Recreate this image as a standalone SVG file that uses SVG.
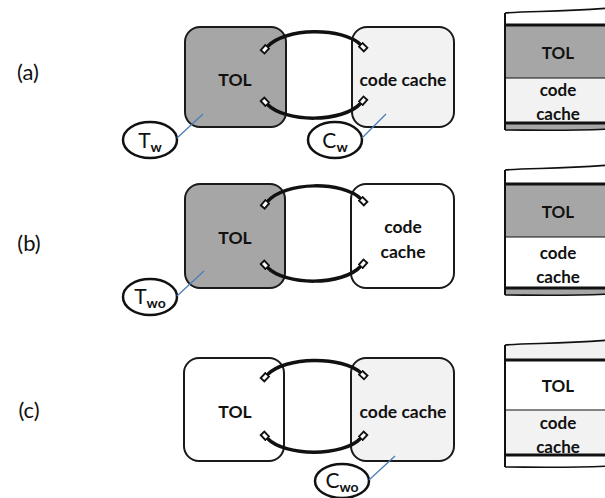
<svg xmlns="http://www.w3.org/2000/svg" width="605" height="498" viewBox="0 0 605 498">
<style>
.box{stroke:#1a1a1a;stroke-width:2}
.dark{fill:#a6a6a6}
.light{fill:#f2f2f2}
.white{fill:#ffffff}
.bt{font-family:Lato,"Liberation Sans",sans-serif;font-weight:bold;font-size:17.5px;fill:#111;text-anchor:middle}
.st{font-family:Lato,"Liberation Sans",sans-serif;font-weight:bold;font-size:17px;fill:#111;text-anchor:middle}
.lbl{font-family:Lato,"Liberation Sans",sans-serif;font-size:22px;fill:#111;text-anchor:middle}
.et{font-family:Lato,"Liberation Sans",sans-serif;font-size:21px;fill:#111;text-anchor:middle}
.sub{font-weight:bold;font-size:14px}
.ell{fill:#fff;stroke:#111;stroke-width:2.5}
.arc{fill:none;stroke:#111;stroke-width:3.5;marker-start:url(#cap);marker-end:url(#cap)}
.lead{stroke:#4a7ebb;stroke-width:1.3}
.thick{stroke:#111;stroke-width:2.8;fill:none}
.thin{stroke:#111;stroke-width:1.2;fill:none}
</style>
<defs>
<marker id="cap" markerUnits="userSpaceOnUse" markerWidth="14" markerHeight="14" refX="1" refY="7" orient="auto-start-reverse" viewBox="0 0 14 14">
<rect x="0.5" y="4.5" width="7" height="5" fill="#fff" stroke="#111" stroke-width="1.9"/>
</marker>
</defs>

<g id="labels">
<text class="lbl" x="28" y="80">(a)</text>
<text class="lbl" x="29" y="251">(b)</text>
<text class="lbl" x="29" y="418">(c)</text>
</g>

<!-- row a -->
<g id="a-tol"><rect class="box dark" x="185" y="27" width="101" height="100" rx="15"/><text class="bt" x="235" y="86">TOL</text></g>
<g id="a-cc"><rect class="box light" x="352" y="27" width="102" height="100" rx="15"/><text class="bt" x="403" y="86">code cache</text></g>
<g id="a-tw"><ellipse class="ell" cx="150" cy="140" rx="27" ry="18"/><text class="et" x="150" y="148">T<tspan class="sub" dy="4">w</tspan></text></g>
<g id="a-cw"><ellipse class="ell" cx="335" cy="140" rx="27" ry="18"/><text class="et" x="335" y="148">C<tspan class="sub" dy="4">w</tspan></text></g>

<!-- row b -->
<g id="b-tol"><rect class="box dark" x="185" y="184" width="100" height="104" rx="15"/><text class="bt" x="235" y="244">TOL</text></g>
<g id="b-cc"><rect class="box white" x="351" y="184" width="103" height="104" rx="15"/><text class="bt" x="403" y="233">code</text><text class="bt" x="403" y="258">cache</text></g>
<g id="b-two"><ellipse class="ell" cx="150" cy="297" rx="27" ry="18"/><text class="et" x="150" y="304">T<tspan class="sub" dy="4">wo</tspan></text></g>

<!-- row c -->
<g id="c-tol"><rect class="box white" x="184" y="358" width="100" height="103" rx="15"/><text class="bt" x="235" y="418">TOL</text></g>
<g id="c-cc"><rect class="box light" x="351" y="358" width="103" height="103" rx="15"/><text class="bt" x="403" y="418">code cache</text></g>
<g id="c-cwo"><ellipse class="ell" cx="342" cy="481" rx="27" ry="17"/><text class="et" x="342" y="488">C<tspan class="sub" dy="4">wo</tspan></text></g>

<g id="connectors">
<path class="arc" d="M267,47 C285,27 343,27 361,45"/>
<path class="arc" d="M267,104 C285,123 343,123 361,103"/>
<path class="arc" d="M267,202 C285,181 343,181 361,199"/>
<path class="arc" d="M267,267 C285,286 343,286 361,266"/>
<path class="arc" d="M267,375 C285,356 343,356 361,373"/>
<path class="arc" d="M267,438 C285,457 343,457 361,438"/>
<line class="lead" x1="177" y1="138" x2="203" y2="114"/>
<line class="lead" x1="362" y1="138" x2="386" y2="114"/>
<line class="lead" x1="177" y1="296" x2="204" y2="271"/>
<line class="lead" x1="369" y1="480" x2="395" y2="456"/>
</g>

<!-- stack a -->
<g id="stack-a">
<path class="white" d="M505,13 C530,11 560,12 610,8 L610,25 L505,25 Z"/>
<rect class="dark" x="505" y="25" width="105" height="53"/>
<rect class="light" x="505" y="78" width="105" height="45"/>
<path class="dark" d="M505,123 L610,123 L610,129 C570,131 530,130 505,130 Z"/>
<path class="thin" d="M505,13 C530,11 560,12 610,8" style="stroke-width:1.6"/>
<line class="thick" x1="505" y1="25" x2="610" y2="25"/>
<line class="thin" x1="505" y1="78" x2="610" y2="78"/>
<line class="thick" x1="505" y1="123" x2="610" y2="123"/>
<path class="thin" d="M505,130 C530,130 570,131 610,129" style="stroke-width:1.6"/>
<line class="thick" x1="505" y1="13" x2="505" y2="130" style="stroke-width:2"/>
<text class="st" x="558" y="59">TOL</text>
<text class="st" x="558" y="96">code</text>
<text class="st" x="558" y="120">cache</text>
</g>

<!-- stack b -->
<g id="stack-b">
<path class="white" d="M505,170 C530,168 560,169 610,165 L610,184 L505,184 Z"/>
<rect class="dark" x="505" y="184" width="105" height="53"/>
<rect class="white" x="505" y="237" width="105" height="51"/>
<path class="dark" d="M505,288 L610,288 L610,294 C570,296 530,295 505,295 Z"/>
<path class="thin" d="M505,170 C530,168 560,169 610,165" style="stroke-width:1.6"/>
<line class="thick" x1="505" y1="184" x2="610" y2="184"/>
<line class="thin" x1="505" y1="237" x2="610" y2="237"/>
<line class="thick" x1="505" y1="288" x2="610" y2="288"/>
<path class="thin" d="M505,295 C530,295 570,296 610,294" style="stroke-width:1.6"/>
<line class="thick" x1="505" y1="170" x2="505" y2="295" style="stroke-width:2"/>
<text class="st" x="558" y="218">TOL</text>
<text class="st" x="558" y="259">code</text>
<text class="st" x="558" y="283">cache</text>
</g>

<!-- stack c -->
<g id="stack-c">
<path class="light" d="M505,345 C530,343 560,344 610,340 L610,360 L505,360 Z"/>
<rect class="white" x="505" y="360" width="105" height="50"/>
<rect class="light" x="505" y="410" width="105" height="45"/>
<path class="white" d="M505,455 L610,455 L610,466 C570,468 530,467 505,467 Z"/>
<path class="thin" d="M505,345 C530,343 560,344 610,340" style="stroke-width:1.6"/>
<line class="thick" x1="505" y1="360" x2="610" y2="360"/>
<line class="thin" x1="505" y1="410" x2="610" y2="410"/>
<line class="thick" x1="505" y1="455" x2="610" y2="455"/>
<path class="thin" d="M505,467 C530,467 570,468 610,466" style="stroke-width:1.6"/>
<line class="thick" x1="505" y1="345" x2="505" y2="467" style="stroke-width:2"/>
<text class="st" x="558" y="392">TOL</text>
<text class="st" x="558" y="429">code</text>
<text class="st" x="558" y="453">cache</text>
</g>
</svg>
